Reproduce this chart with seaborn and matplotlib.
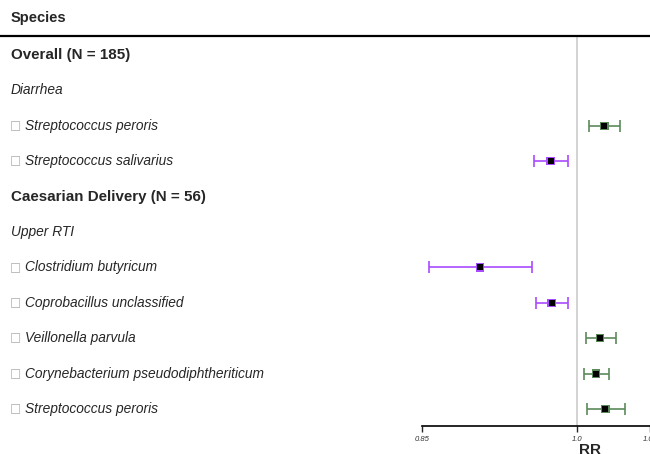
import matplotlib
matplotlib.use('Agg')
import matplotlib.pyplot as plt
import matplotlib.transforms as mtransforms
from matplotlib.lines import Line2D
import pandas as pd
import seaborn as sns

# rows from top to bottom
row_labels = ['Overall (N = 185)', 'Diarrhea',
              'Streptococcus peroris', 'Streptococcus salivarius',
              'Caesarian Delivery (N = 56)', 'Upper RTI',
              'Clostridium butyricum', 'Coprobacillus unclassified',
              'Veillonella parvula', 'Corynebacterium pseudodiphtheriticum',
              'Streptococcus peroris']
row_kind = ['group', 'outcome', 'species', 'species',
            'group', 'outcome', 'species', 'species',
            'species', 'species', 'species']

# estimates for species rows
species_rows = [2, 3, 6, 7, 8, 9, 10]
rr = [1.026, 0.974, 0.906, 0.975, 1.022, 1.018, 1.027]
rr_low = [1.011, 0.958, 0.857, 0.960, 1.008, 1.006, 1.009]
rr_high = [1.041, 0.991, 0.956, 0.991, 1.037, 1.030, 1.046]

x_ticks = [0.85, 1.0, 1.07]
x_ticklabels = ['0.85', '1.0', '1.07']

sns.set_style('white')
plt.rcParams['font.family'] = ['Liberation Sans', 'DejaVu Sans']

W, H = 650, 454
fig = plt.figure(figsize=(6.5, 4.54), dpi=100)

# axes from the top rule (y=36px) down to the RR axis (y=426px)
ax_left, ax_right = 422, 650
ax_top, ax_bottom = 36, 426
ax = fig.add_axes([ax_left / W, 1 - ax_bottom / H,
                   (ax_right - ax_left) / W, (ax_bottom - ax_top) / H])

row0_px, row_step = 55, 35.4
ax.set_ylim((ax_bottom - row0_px) / row_step, -(row0_px - ax_top) / row_step)
ax.set_xlim(0.85, 1.07)

df = pd.DataFrame({'row': species_rows, 'rr': rr, 'lo': rr_low, 'hi': rr_high})
df['dir'] = ['up' if v > 1 else 'down' for v in df.rr]
colors = {'up': '#5b8a5b', 'down': '#a94cff'}

ax.axvline(1.0, color='#cccccc', lw=1.2, zorder=0)

for _, r in df.iterrows():
    ax.errorbar(r.rr, r.row, xerr=[[r.rr - r.lo], [r.hi - r.rr]],
                fmt='none', ecolor=colors[r.dir], elinewidth=1.2,
                capsize=4, capthick=1.2, zorder=2)

sns.scatterplot(data=df, x='rr', y='row', hue='dir', palette=colors,
                marker='s', s=36, linewidth=0, legend=False, ax=ax, zorder=3)
sns.scatterplot(data=df, x='rr', y='row', color='black',
                marker='s', s=14, linewidth=0, legend=False, ax=ax, zorder=4)

# axis styling
for side in ['top', 'right', 'left']:
    ax.spines[side].set_visible(False)
ax.spines['bottom'].set_color('black')
ax.spines['bottom'].set_linewidth(1.2)
ax.set_yticks([])
ax.set_xticks(x_ticks)
ax.set_xticklabels(x_ticklabels, fontsize=5.5, fontstyle='italic', color='#333333')
ax.tick_params(axis='x', direction='out', length=4, width=1, pad=3, bottom=True)
ax.set_xlabel('RR', fontsize=11, fontweight='bold', va='center')
ax.xaxis.set_label_coords((590 - ax_left) / (ax_right - ax_left),
                          -(450 - ax_bottom) / (ax_bottom - ax_top))
ax.set_ylabel('')

# left text column
trans = mtransforms.blended_transform_factory(fig.transFigure, ax.transData)
for i, (lab, kind) in enumerate(zip(row_labels, row_kind)):
    if kind == 'group':
        ax.text(11 / W, i, lab, transform=trans, fontsize=10.9,
                fontweight='bold', va='center', ha='left', clip_on=False)
    elif kind == 'outcome':
        ax.text(11 / W, i, lab, transform=trans, fontsize=9.9,
                fontstyle='italic', va='center', ha='left', clip_on=False)
    else:
        ax.text(10 / W, i, '\u25a1', transform=trans, fontsize=8.5,
                color='#aaaaaa', va='center', ha='left', clip_on=False,
                family='DejaVu Sans')
        ax.text(25 / W, i, lab, transform=trans, fontsize=9.9,
                fontstyle='italic', va='center', ha='left', clip_on=False)

fig.text(11 / W, 1 - 18 / H, 'Species', fontsize=10.5, fontweight='bold',
         va='center', ha='left')
fig.add_artist(Line2D([0, 1], [1 - ax_top / H, 1 - ax_top / H],
                      transform=fig.transFigure, color='black', lw=1.6))

fig.savefig('out.png', dpi=100)
